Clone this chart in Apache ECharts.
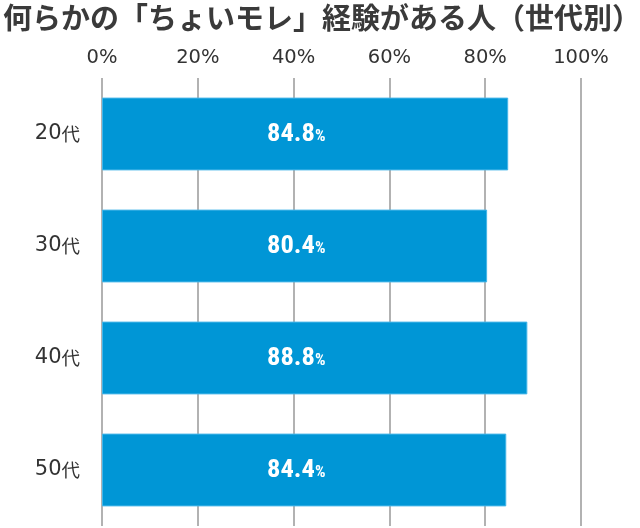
<!DOCTYPE html>
<html><head><meta charset="utf-8">
<script src="https://cdn.jsdelivr.net/npm/echarts@6/dist/echarts.min.js"></script>
<style>html,body{margin:0;padding:0;background:#fff}#c{width:640px;height:528px}</style>
</head><body><div id="c"></div>
<script>
const title = '何らかの「ちょいモレ」経験がある人（世代別）';
const categories = ['20代', '30代', '40代', '50代'];
const values = [84.8, 80.4, 88.8, 84.4];
const tickMax = 100;
const tickStep = 20;

const chart = echarts.init(document.getElementById('c'), null, {renderer: 'canvas'});
chart.setOption({
  animation: false,
  title: {
    text: title, left: -2, top: -2,
    textStyle: {fontFamily: 'Noto Sans CJK JP', fontWeight: 'bold', fontSize: 29, color: '#3a3a3a'}
  },
  grid: {left: 102, right: 59, top: 78, bottom: 2, containLabel: false},
  xAxis: {
    type: 'value', position: 'top', min: 0, max: tickMax, interval: tickStep,
    axisLine: {show: false}, axisTick: {show: false},
    axisLabel: {formatter: '{value}%', fontFamily: "'DejaVu Sans'", fontSize: 19.5, color: '#333', margin: 10},
    splitLine: {show: true, lineStyle: {color: '#999', width: 1.5}}
  },
  yAxis: {
    type: 'category', data: categories, inverse: true,
    axisLine: {show: false}, axisTick: {show: false},
    axisLabel: {
      margin: 22,
      formatter: v => '{d|' + v.replace('代', '') + '}{k|代}',
      rich: {
        d: {fontFamily: "'DejaVu Sans'", fontSize: 21, color: '#333'},
        k: {fontFamily: 'Noto Sans CJK JP', fontSize: 18.5, color: '#333'}
      }
    }
  },
  series: [{
    type: 'bar', data: values, barCategoryGap: '35%',
    itemStyle: {color: '#0096d6', borderColor: '#45b6e8', borderWidth: 1},
    label: {
      show: true, position: [165, '50%'], align: 'left', verticalAlign: 'middle',
      formatter: p => '{v|' + p.value.toFixed(1) + '}{p|%}',
      rich: {
        v: {fontFamily: "'Roboto Condensed'", fontWeight: 'bold', fontSize: 26.5, color: '#fff'},
        p: {fontFamily: "'Roboto Condensed'", fontWeight: 'bold', fontSize: 16.5, color: '#fff', padding: [5, 0, 0, 0]}
      }
    }
  }]
});
</script></body></html>
